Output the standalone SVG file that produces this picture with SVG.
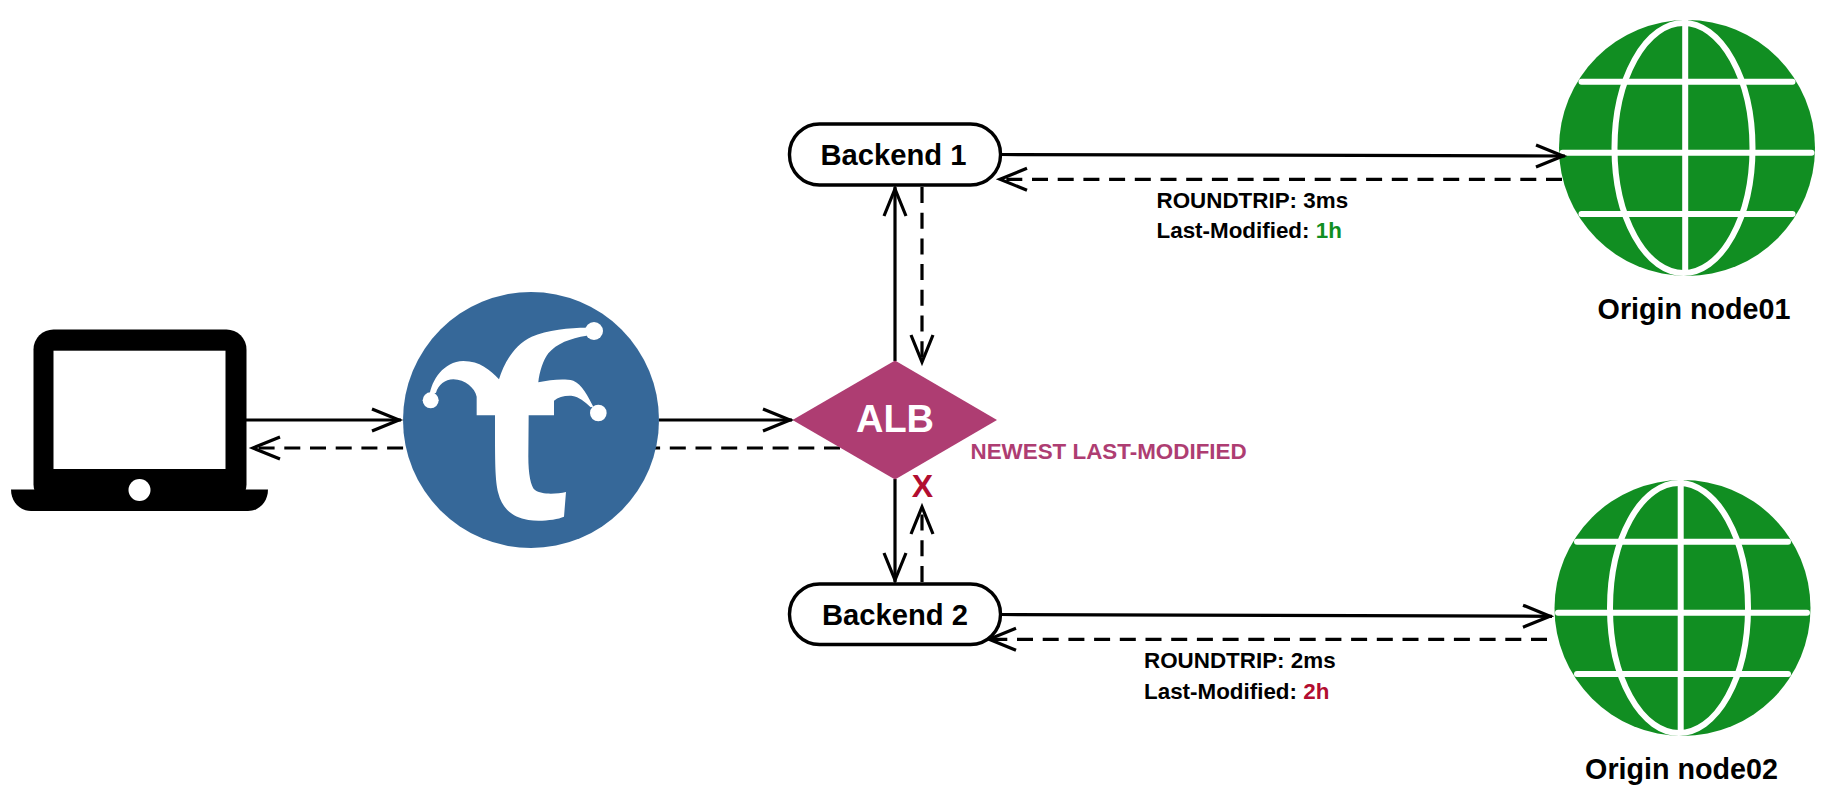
<svg xmlns="http://www.w3.org/2000/svg" width="1832" height="806" viewBox="0 0 1832 806">
<style>
text{font-family:"Liberation Sans",Arial,sans-serif;font-weight:bold;fill:#000}
.lbl{font-size:22.4px}
.name{font-size:28.7px;text-anchor:middle}
.bn{font-size:29.2px;text-anchor:middle}
.ln{fill:none;stroke:#000;stroke-width:3.2}
.arr{marker-end:url(#open)}
.dash{stroke-dasharray:16 9.7}
.be{fill:#fff;stroke:#000;stroke-width:3.4}
.gl{stroke:#fff;stroke-width:6;fill:none}
.cap{stroke-linecap:round}
</style>
<defs>
<marker id="open" markerUnits="userSpaceOnUse" markerWidth="40" markerHeight="30" refX="33" refY="15" orient="auto">
<path d="M4,4 L31,15 L4,26" fill="none" stroke="#000" stroke-width="3.2"/>
</marker>
<g id="globe">
<circle cx="1682.5" cy="608" r="128" fill="#118e22"/>
<ellipse class="gl" cx="1679" cy="608" rx="69" ry="125"/>
<line class="gl" x1="1680.7" y1="480" x2="1680.7" y2="734"/>
<line class="gl cap" x1="1577" y1="541.7" x2="1788" y2="541.7"/>
<line class="gl cap" x1="1558" y1="612.7" x2="1807" y2="612.7"/>
<line class="gl cap" x1="1577" y1="674" x2="1788" y2="674"/>
</g>
</defs>
<g id="origin1"><use href="#globe" x="4.5" y="-460"/><text class="name" x="1694" y="319.3">Origin node01</text></g>
<g id="origin2"><use href="#globe"/><text class="name" x="1681.5" y="779.3">Origin node02</text></g>
<g id="backend1"><rect class="be" x="789.5" y="124" width="211" height="61" rx="30" ry="30"/><text class="bn" x="893.5" y="164.5">Backend 1</text></g>
<g id="backend2"><rect class="be" x="789.5" y="584" width="211" height="60.5" rx="30" ry="30"/><text class="bn" x="895" y="624.5">Backend 2</text></g>
<g id="connectors">
<line class="ln arr" x1="246" y1="420" x2="401" y2="420"/>
<line class="ln arr dash" x1="840" y1="448" x2="251" y2="448"/>
<line class="ln arr" x1="659" y1="420" x2="792" y2="420"/>
<line class="ln arr" x1="895" y1="361" x2="895" y2="187"/>
<line class="ln arr dash" x1="922" y1="187" x2="922" y2="364"/>
<line class="ln arr" x1="895" y1="479" x2="895" y2="582"/>
<line class="ln arr dash" x1="922" y1="582" x2="922" y2="505"/>
<line class="ln arr" x1="1001" y1="154.5" x2="1565" y2="156"/>
<line class="ln arr dash" x1="1562" y1="179.3" x2="998" y2="179.3"/>
<line class="ln arr" x1="1001" y1="614.5" x2="1552" y2="616.3"/>
<line class="ln arr dash" x1="1547" y1="639.3" x2="987" y2="639.3"/>
</g>
<g id="laptop">
<rect x="33.5" y="329.5" width="213" height="175" rx="20" ry="20" fill="#000"/>
<path d="M11,489.5 H268 C268,502 259,511 248,511 H31 C20,511 11,502 11,489.5Z" fill="#000"/>
<rect x="53.5" y="350.7" width="172" height="118.3" fill="#fff"/>
<circle cx="139.5" cy="490" r="11" fill="#fff"/>
</g>
<g id="fastly">
<circle cx="531" cy="420" r="128" fill="#366899"/>
<g transform="translate(400 290) scale(.33333)" fill="#fff">
<path d="M88,318 C95,270 130,215 190,213 C240,213 270,240 297,268 C310,225 340,165 395,140 C440,120 510,113 560,113 L560,137 C510,145 470,160 445,190 C430,210 418,245 415,277 C450,270 490,265 520,272 C545,282 565,320 580,350 L572,352 C555,335 535,320 518,318 C495,316 475,322 462,332 L462,376 L386,376 L385,500 C385,550 392,590 405,600 C425,615 470,612 498,606 L492,680 C470,690 420,695 385,690 C330,680 305,650 295,610 C285,570 285,520 285,376 L230,376 L230,320 C225,295 195,268 160,268 C135,268 115,285 108,308 Z"/>
<circle cx="582" cy="123" r="27"/><circle cx="595" cy="369" r="25"/><circle cx="92" cy="331" r="24"/>
</g>
</g>
<g id="alb">
<polygon points="895,360.5 997,420 895,479.5 792.5,420" fill="#ae3d72"/>
<text x="895" y="432" font-size="38" text-anchor="middle" style="fill:#fff">ALB</text>
</g>
<text x="970.5" y="459.3" font-size="22.4" style="fill:#ae3d72">NEWEST LAST-MODIFIED</text>
<text x="922.5" y="496.7" font-size="32" text-anchor="middle" style="fill:#b20d30">X</text>
<text class="lbl" x="1156.5" y="208.3">ROUNDTRIP: 3ms</text>
<text class="lbl" x="1156.5" y="238.3">Last-Modified: <tspan style="fill:#118e22">1h</tspan></text>
<text class="lbl" x="1144" y="668">ROUNDTRIP: 2ms</text>
<text class="lbl" x="1144" y="699">Last-Modified: <tspan style="fill:#b20d30">2h</tspan></text>
</svg>
